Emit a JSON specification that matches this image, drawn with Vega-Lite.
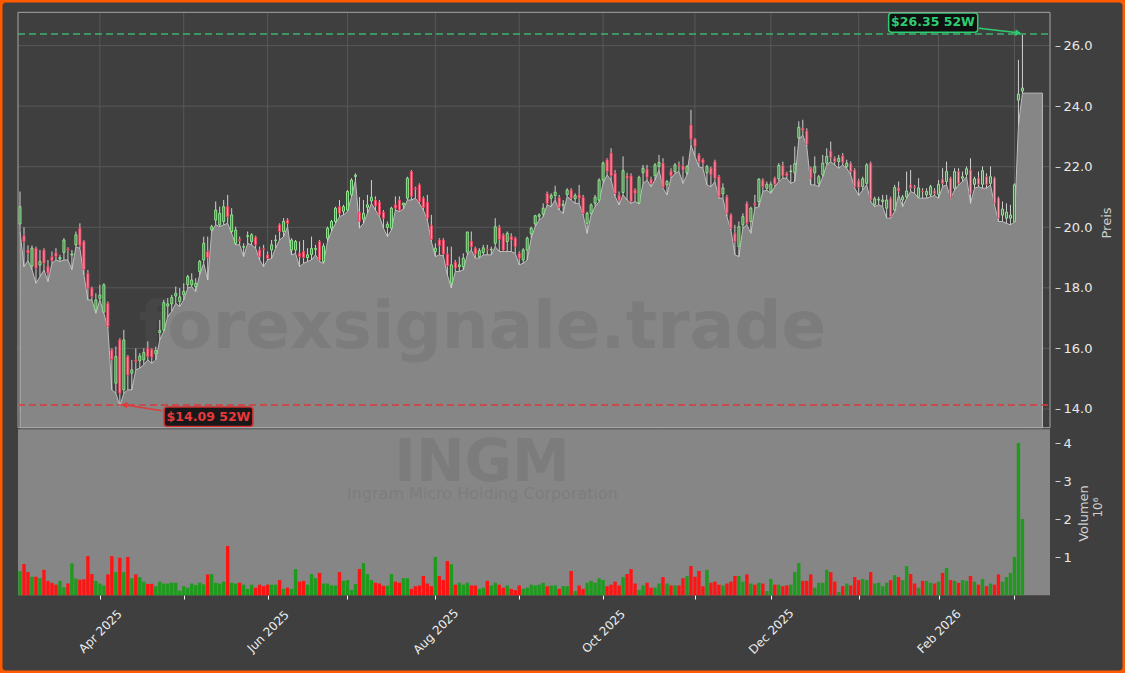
{
"$schema":"https://vega.github.io/schema/vega-lite/v6.json",
"width":1125,"height":673,"padding":0,"autosize":{"type":"none"},
"background":"#ffffff",
"config":{"font":"DejaVu Sans","view":{"fill":"#3f3f3f","stroke":"#ff5a00","strokeWidth":5,"cornerRadius":6},"axis":{"grid":false,"domain":false}},
"datasets":{
"months":[{"i":20},{"i":41},{"i":62},{"i":82},{"i":104},{"i":125},{"i":146},{"i":169},{"i":188},{"i":210},{"i":230},{"i":249}],
"levels":[{"p":14},{"p":16},{"p":18},{"p":20},{"p":22},{"p":24},{"p":26}],
"ohlc":[
{"i":0,"o":20.11,"h":21.18,"l":19.86,"c":20.68,"v":0.64},
{"i":1,"o":19.72,"h":20.0,"l":18.7,"c":19.53,"v":0.82},
{"i":2,"o":19.25,"h":19.4,"l":18.9,"c":19.15,"v":0.61},
{"i":3,"o":18.72,"h":19.4,"l":18.6,"c":19.31,"v":0.49},
{"i":4,"o":19.31,"h":19.36,"l":18.15,"c":18.65,"v":0.49},
{"i":5,"o":18.75,"h":19.25,"l":18.37,"c":18.87,"v":0.45},
{"i":6,"o":19.25,"h":19.31,"l":18.59,"c":18.81,"v":0.67},
{"i":7,"o":18.72,"h":18.92,"l":18.21,"c":18.48,"v":0.38},
{"i":8,"o":19.03,"h":19.2,"l":18.81,"c":18.9,"v":0.33},
{"i":9,"o":19.16,"h":19.31,"l":18.92,"c":19.03,"v":0.28},
{"i":10,"o":18.95,"h":19.09,"l":18.87,"c":19.0,"v":0.38},
{"i":11,"o":19.17,"h":19.64,"l":18.92,"c":19.58,"v":0.21},
{"i":12,"o":19.29,"h":19.34,"l":18.92,"c":19.25,"v":0.31},
{"i":13,"o":19.08,"h":19.25,"l":18.6,"c":19.12,"v":0.84},
{"i":14,"o":19.42,"h":19.86,"l":19.36,"c":19.75,"v":0.44},
{"i":15,"o":19.97,"h":20.13,"l":19.3,"c":19.4,"v":0.41},
{"i":16,"o":19.53,"h":19.58,"l":18.43,"c":18.6,"v":0.42},
{"i":17,"o":18.48,"h":18.59,"l":17.6,"c":17.99,"v":1.03},
{"i":18,"o":17.99,"h":18.04,"l":17.6,"c":17.71,"v":0.56},
{"i":19,"o":17.27,"h":17.82,"l":17.16,"c":17.6,"v":0.38},
{"i":20,"o":17.65,"h":18.1,"l":17.6,"c":17.76,"v":0.31},
{"i":21,"o":17.2,"h":18.15,"l":17.16,"c":18.1,"v":0.26},
{"i":22,"o":17.49,"h":17.55,"l":16.67,"c":16.72,"v":0.55},
{"i":23,"o":15.95,"h":16.0,"l":14.63,"c":15.64,"v":1.03},
{"i":24,"o":14.85,"h":16.06,"l":14.52,"c":15.73,"v":0.61},
{"i":25,"o":16.28,"h":16.34,"l":14.09,"c":14.52,"v":0.99},
{"i":26,"o":14.63,"h":16.61,"l":14.52,"c":16.28,"v":0.61},
{"i":27,"o":15.73,"h":15.78,"l":14.63,"c":15.12,"v":1.01},
{"i":28,"o":15.18,"h":15.62,"l":14.63,"c":15.29,"v":0.45},
{"i":29,"o":15.62,"h":16.0,"l":15.29,"c":15.57,"v":0.55},
{"i":30,"o":15.59,"h":15.84,"l":15.35,"c":15.75,"v":0.48},
{"i":31,"o":15.62,"h":16.0,"l":15.46,"c":15.86,"v":0.36},
{"i":32,"o":16.0,"h":16.23,"l":15.62,"c":15.73,"v":0.3},
{"i":33,"o":15.97,"h":16.0,"l":15.51,"c":15.71,"v":0.3},
{"i":34,"o":15.82,"h":16.06,"l":15.62,"c":15.93,"v":0.24},
{"i":35,"o":16.52,"h":16.94,"l":16.28,"c":16.59,"v":0.36},
{"i":36,"o":16.61,"h":17.6,"l":16.56,"c":17.51,"v":0.31},
{"i":37,"o":17.4,"h":17.66,"l":17.05,"c":17.47,"v":0.31},
{"i":38,"o":17.47,"h":17.77,"l":17.22,"c":17.68,"v":0.33},
{"i":39,"o":17.73,"h":18.04,"l":17.49,"c":17.82,"v":0.33},
{"i":40,"o":17.55,"h":17.99,"l":17.38,"c":17.7,"v":0.12},
{"i":41,"o":17.77,"h":18.15,"l":17.6,"c":17.88,"v":0.24},
{"i":42,"o":18.1,"h":18.43,"l":17.99,"c":18.37,"v":0.2},
{"i":43,"o":18.1,"h":18.48,"l":18.04,"c":18.26,"v":0.31},
{"i":44,"o":18.04,"h":18.32,"l":17.88,"c":18.15,"v":0.27},
{"i":45,"o":18.54,"h":18.92,"l":18.43,"c":18.87,"v":0.33},
{"i":46,"o":18.92,"h":19.69,"l":18.81,"c":19.47,"v":0.29},
{"i":47,"o":19.2,"h":19.69,"l":18.26,"c":19.0,"v":0.55},
{"i":48,"o":19.91,"h":20.08,"l":19.86,"c":20.02,"v":0.56},
{"i":49,"o":20.24,"h":20.85,"l":20.08,"c":20.57,"v":0.33},
{"i":50,"o":20.08,"h":20.68,"l":20.02,"c":20.46,"v":0.31},
{"i":51,"o":20.19,"h":20.9,"l":20.08,"c":20.68,"v":0.36},
{"i":52,"o":20.68,"h":21.07,"l":20.13,"c":20.35,"v":1.3},
{"i":53,"o":19.86,"h":20.63,"l":19.8,"c":20.41,"v":0.33},
{"i":54,"o":19.47,"h":20.02,"l":19.42,"c":19.91,"v":0.31},
{"i":55,"o":19.6,"h":19.69,"l":19.42,"c":19.56,"v":0.33},
{"i":56,"o":19.34,"h":19.47,"l":19.03,"c":19.36,"v":0.28},
{"i":57,"o":19.7,"h":19.86,"l":19.47,"c":19.72,"v":0.17},
{"i":58,"o":19.53,"h":19.8,"l":19.42,"c":19.75,"v":0.28},
{"i":59,"o":19.67,"h":19.72,"l":19.31,"c":19.42,"v":0.2},
{"i":60,"o":19.25,"h":19.36,"l":18.92,"c":19.03,"v":0.28},
{"i":61,"o":19.29,"h":19.42,"l":18.7,"c":19.27,"v":0.24},
{"i":62,"o":19.09,"h":19.2,"l":18.92,"c":18.97,"v":0.28},
{"i":63,"o":19.25,"h":19.58,"l":18.97,"c":19.42,"v":0.28},
{"i":64,"o":19.56,"h":19.75,"l":19.31,"c":19.58,"v":0.28},
{"i":65,"o":20.08,"h":20.13,"l":19.58,"c":19.86,"v":0.4},
{"i":66,"o":19.86,"h":20.3,"l":19.69,"c":20.19,"v":0.17},
{"i":67,"o":20.24,"h":20.3,"l":20.02,"c":20.13,"v":0.2},
{"i":68,"o":19.25,"h":19.64,"l":19.09,"c":19.58,"v":0.17},
{"i":69,"o":19.25,"h":19.58,"l":19.14,"c":19.53,"v":0.69},
{"i":70,"o":19.14,"h":19.53,"l":18.7,"c":19.03,"v":0.36},
{"i":71,"o":19.2,"h":19.58,"l":18.81,"c":19.0,"v":0.38},
{"i":72,"o":19.0,"h":19.31,"l":18.87,"c":19.09,"v":0.28},
{"i":73,"o":19.1,"h":19.69,"l":18.92,"c":19.3,"v":0.56},
{"i":74,"o":19.27,"h":19.42,"l":19.09,"c":19.3,"v":0.45},
{"i":75,"o":19.53,"h":19.58,"l":18.87,"c":18.92,"v":0.59},
{"i":76,"o":18.87,"h":19.47,"l":18.81,"c":19.38,"v":0.31},
{"i":77,"o":19.64,"h":20.02,"l":19.53,"c":19.97,"v":0.31},
{"i":78,"o":19.97,"h":20.24,"l":19.86,"c":20.19,"v":0.26},
{"i":79,"o":20.19,"h":20.68,"l":20.13,"c":20.63,"v":0.26},
{"i":80,"o":20.68,"h":20.9,"l":20.35,"c":20.46,"v":0.61},
{"i":81,"o":20.52,"h":20.74,"l":20.41,"c":20.68,"v":0.38},
{"i":82,"o":20.57,"h":21.23,"l":20.52,"c":21.18,"v":0.4},
{"i":83,"o":21.07,"h":21.62,"l":21.01,"c":21.56,"v":0.14},
{"i":84,"o":21.68,"h":21.78,"l":21.56,"c":21.72,"v":0.3},
{"i":85,"o":20.5,"h":21.0,"l":19.97,"c":20.2,"v":0.69},
{"i":86,"o":20.27,"h":20.9,"l":20.13,"c":20.46,"v":0.85},
{"i":87,"o":20.66,"h":21.07,"l":20.46,"c":20.74,"v":0.56},
{"i":88,"o":20.87,"h":21.56,"l":20.79,"c":20.99,"v":0.4},
{"i":89,"o":20.9,"h":21.02,"l":20.57,"c":20.71,"v":0.33},
{"i":90,"o":20.83,"h":20.9,"l":20.35,"c":20.41,"v":0.31},
{"i":91,"o":20.5,"h":20.57,"l":19.97,"c":20.3,"v":0.25},
{"i":92,"o":20.0,"h":20.19,"l":19.69,"c":20.1,"v":0.25},
{"i":93,"o":19.97,"h":20.68,"l":19.91,"c":20.63,"v":0.56},
{"i":94,"o":20.74,"h":21.02,"l":20.57,"c":20.63,"v":0.36},
{"i":95,"o":20.9,"h":21.02,"l":20.52,"c":20.57,"v":0.33},
{"i":96,"o":20.74,"h":20.8,"l":20.6,"c":20.8,"v":0.45},
{"i":97,"o":20.96,"h":21.67,"l":20.9,"c":21.62,"v":0.45},
{"i":98,"o":21.84,"h":21.89,"l":20.9,"c":21.02,"v":0.17},
{"i":99,"o":21.29,"h":21.34,"l":20.96,"c":21.26,"v":0.24},
{"i":100,"o":21.4,"h":21.45,"l":20.79,"c":20.85,"v":0.26},
{"i":101,"o":20.96,"h":21.02,"l":20.57,"c":20.66,"v":0.51},
{"i":102,"o":20.83,"h":21.07,"l":20.24,"c":20.3,"v":0.31},
{"i":103,"o":20.06,"h":20.41,"l":19.53,"c":19.6,"v":0.24},
{"i":104,"o":19.2,"h":19.47,"l":19.03,"c":19.31,"v":1.01},
{"i":105,"o":19.58,"h":19.64,"l":19.09,"c":19.4,"v":0.51},
{"i":106,"o":19.58,"h":19.64,"l":19.05,"c":19.12,"v":0.4},
{"i":107,"o":19.12,"h":19.36,"l":18.43,"c":18.73,"v":0.9},
{"i":108,"o":18.15,"h":19.36,"l":17.99,"c":18.76,"v":0.82},
{"i":109,"o":18.85,"h":18.92,"l":18.54,"c":18.65,"v":0.28},
{"i":110,"o":18.7,"h":19.03,"l":18.54,"c":18.76,"v":0.33},
{"i":111,"o":18.7,"h":19.14,"l":18.59,"c":18.98,"v":0.28},
{"i":112,"o":19.18,"h":19.86,"l":19.09,"c":19.84,"v":0.33},
{"i":113,"o":19.54,"h":19.86,"l":19.25,"c":19.36,"v":0.26},
{"i":114,"o":19.31,"h":19.36,"l":18.98,"c":19.12,"v":0.26},
{"i":115,"o":19.03,"h":19.31,"l":18.98,"c":19.23,"v":0.17},
{"i":116,"o":19.16,"h":19.42,"l":19.09,"c":19.32,"v":0.2},
{"i":117,"o":19.27,"h":19.42,"l":19.09,"c":19.25,"v":0.38},
{"i":118,"o":19.25,"h":19.36,"l":19.09,"c":19.27,"v":0.26},
{"i":119,"o":19.47,"h":20.3,"l":19.36,"c":20.02,"v":0.33},
{"i":120,"o":20.0,"h":20.08,"l":19.2,"c":19.6,"v":0.28},
{"i":121,"o":19.75,"h":19.8,"l":19.2,"c":19.25,"v":0.2},
{"i":122,"o":19.53,"h":19.86,"l":19.2,"c":19.8,"v":0.26},
{"i":123,"o":19.7,"h":19.8,"l":19.2,"c":19.58,"v":0.17},
{"i":124,"o":19.64,"h":19.69,"l":19.14,"c":19.36,"v":0.14},
{"i":125,"o":19.14,"h":19.2,"l":18.76,"c":18.98,"v":0.26},
{"i":126,"o":18.92,"h":19.31,"l":18.81,"c":19.25,"v":0.17},
{"i":127,"o":19.25,"h":19.69,"l":18.92,"c":19.64,"v":0.2},
{"i":128,"o":19.78,"h":20.02,"l":19.64,"c":19.97,"v":0.28},
{"i":129,"o":20.11,"h":20.41,"l":20.02,"c":20.38,"v":0.26},
{"i":130,"o":20.36,"h":20.46,"l":20.24,"c":20.41,"v":0.28},
{"i":131,"o":20.44,"h":20.79,"l":20.35,"c":20.63,"v":0.33},
{"i":132,"o":21.12,"h":21.18,"l":20.74,"c":20.79,"v":0.24},
{"i":133,"o":20.96,"h":21.12,"l":20.68,"c":21.05,"v":0.26},
{"i":134,"o":21.05,"h":21.37,"l":20.9,"c":21.16,"v":0.26},
{"i":135,"o":20.98,"h":21.07,"l":20.57,"c":20.66,"v":0.17},
{"i":136,"o":20.72,"h":20.9,"l":20.46,"c":20.76,"v":0.24},
{"i":137,"o":21.07,"h":21.29,"l":21.02,"c":21.23,"v":0.24},
{"i":138,"o":21.23,"h":21.29,"l":20.9,"c":20.96,"v":0.64},
{"i":139,"o":20.94,"h":21.12,"l":20.79,"c":21.05,"v":0.11},
{"i":140,"o":21.07,"h":21.4,"l":20.79,"c":20.96,"v":0.26},
{"i":141,"o":20.99,"h":21.07,"l":20.41,"c":20.46,"v":0.17},
{"i":142,"o":20.13,"h":20.52,"l":19.8,"c":20.46,"v":0.33},
{"i":143,"o":20.46,"h":20.79,"l":20.41,"c":20.74,"v":0.38},
{"i":144,"o":20.79,"h":21.07,"l":20.68,"c":20.99,"v":0.33},
{"i":145,"o":20.9,"h":21.62,"l":20.85,"c":21.56,"v":0.45},
{"i":146,"o":21.56,"h":22.17,"l":21.45,"c":22.12,"v":0.4},
{"i":147,"o":22.23,"h":22.28,"l":21.73,"c":21.84,"v":0.24},
{"i":148,"o":22.45,"h":22.61,"l":21.56,"c":21.7,"v":0.28},
{"i":149,"o":21.78,"h":21.89,"l":21.02,"c":21.12,"v":0.36},
{"i":150,"o":21.06,"h":21.18,"l":20.74,"c":20.9,"v":0.26},
{"i":151,"o":21.15,"h":22.34,"l":21.07,"c":21.87,"v":0.48},
{"i":152,"o":21.7,"h":21.8,"l":20.9,"c":21.62,"v":0.56},
{"i":153,"o":21.7,"h":21.78,"l":20.79,"c":20.85,"v":0.69},
{"i":154,"o":21.23,"h":21.29,"l":20.85,"c":21.12,"v":0.31},
{"i":155,"o":20.81,"h":21.7,"l":20.77,"c":21.65,"v":0.14},
{"i":156,"o":21.8,"h":22.06,"l":21.45,"c":21.95,"v":0.26},
{"i":157,"o":21.92,"h":22.06,"l":21.56,"c":21.65,"v":0.33},
{"i":158,"o":21.59,"h":21.67,"l":21.34,"c":21.45,"v":0.2},
{"i":159,"o":21.7,"h":22.12,"l":21.56,"c":22.06,"v":0.2},
{"i":160,"o":22.01,"h":22.39,"l":21.89,"c":22.14,"v":0.31},
{"i":161,"o":22.12,"h":22.28,"l":21.29,"c":21.32,"v":0.48},
{"i":162,"o":21.4,"h":21.56,"l":21.07,"c":21.51,"v":0.31},
{"i":163,"o":21.86,"h":21.95,"l":21.62,"c":21.7,"v":0.26},
{"i":164,"o":21.84,"h":22.12,"l":21.78,"c":22.06,"v":0.26},
{"i":165,"o":22.06,"h":22.17,"l":21.84,"c":22.03,"v":0.26},
{"i":166,"o":22.03,"h":22.34,"l":21.45,"c":21.89,"v":0.45},
{"i":167,"o":21.8,"h":22.06,"l":21.73,"c":22.0,"v":0.51},
{"i":168,"o":23.38,"h":23.88,"l":22.72,"c":22.91,"v":0.77},
{"i":169,"o":22.91,"h":22.94,"l":22.34,"c":22.67,"v":0.49},
{"i":170,"o":22.39,"h":22.45,"l":22.0,"c":22.17,"v":0.64},
{"i":171,"o":22.23,"h":22.28,"l":21.95,"c":22.12,"v":0.24},
{"i":172,"o":21.8,"h":22.06,"l":21.4,"c":22.0,"v":0.67},
{"i":173,"o":21.95,"h":22.0,"l":21.34,"c":21.73,"v":0.33},
{"i":174,"o":22.17,"h":22.23,"l":21.51,"c":21.62,"v":0.36},
{"i":175,"o":21.67,"h":21.73,"l":20.96,"c":21.01,"v":0.28},
{"i":176,"o":21.1,"h":21.45,"l":20.96,"c":21.3,"v":0.26},
{"i":177,"o":21.01,"h":21.07,"l":20.35,"c":20.46,"v":0.31},
{"i":178,"o":20.41,"h":20.46,"l":19.91,"c":19.97,"v":0.36},
{"i":179,"o":19.8,"h":20.08,"l":19.09,"c":19.53,"v":0.51},
{"i":180,"o":19.36,"h":20.19,"l":19.03,"c":20.02,"v":0.51},
{"i":181,"o":20.08,"h":20.46,"l":19.97,"c":20.35,"v":0.36},
{"i":182,"o":20.79,"h":20.85,"l":20.08,"c":20.13,"v":0.55},
{"i":183,"o":20.19,"h":20.68,"l":19.8,"c":20.63,"v":0.31},
{"i":184,"o":20.79,"h":21.07,"l":20.63,"c":20.74,"v":0.28},
{"i":185,"o":20.85,"h":21.62,"l":20.68,"c":21.59,"v":0.33},
{"i":186,"o":21.56,"h":21.62,"l":21.18,"c":21.34,"v":0.31},
{"i":187,"o":21.29,"h":21.51,"l":21.23,"c":21.42,"v":0.11},
{"i":188,"o":21.18,"h":21.51,"l":21.12,"c":21.42,"v":0.43},
{"i":189,"o":21.62,"h":21.67,"l":21.34,"c":21.42,"v":0.28},
{"i":190,"o":21.6,"h":22.12,"l":21.51,"c":22.04,"v":0.28},
{"i":191,"o":22.04,"h":22.17,"l":21.62,"c":21.7,"v":0.24},
{"i":192,"o":21.78,"h":21.84,"l":21.62,"c":21.7,"v":0.26},
{"i":193,"o":21.84,"h":22.06,"l":21.45,"c":21.86,"v":0.28},
{"i":194,"o":21.8,"h":22.67,"l":21.51,"c":22.1,"v":0.61},
{"i":195,"o":22.95,"h":23.5,"l":22.9,"c":23.3,"v":0.85},
{"i":196,"o":23.27,"h":23.55,"l":23.05,"c":23.2,"v":0.38},
{"i":197,"o":23.18,"h":23.27,"l":22.67,"c":22.74,"v":0.38},
{"i":198,"o":21.95,"h":22.0,"l":21.4,"c":21.62,"v":0.55},
{"i":199,"o":21.8,"h":22.34,"l":21.4,"c":22.0,"v":0.2},
{"i":200,"o":21.45,"h":21.73,"l":21.34,"c":21.67,"v":0.33},
{"i":201,"o":21.73,"h":22.39,"l":21.67,"c":22.12,"v":0.33},
{"i":202,"o":22.12,"h":22.61,"l":22.06,"c":22.34,"v":0.67},
{"i":203,"o":22.52,"h":22.83,"l":22.17,"c":22.3,"v":0.61},
{"i":204,"o":22.28,"h":22.34,"l":22.06,"c":22.17,"v":0.36},
{"i":205,"o":22.17,"h":22.39,"l":21.95,"c":22.28,"v":0.09},
{"i":206,"o":22.36,"h":22.45,"l":22.06,"c":22.15,"v":0.24},
{"i":207,"o":22.0,"h":22.23,"l":21.95,"c":22.12,"v":0.31},
{"i":208,"o":22.1,"h":22.17,"l":21.73,"c":21.84,"v":0.26},
{"i":209,"o":21.89,"h":21.95,"l":21.29,"c":21.34,"v":0.48},
{"i":210,"o":21.53,"h":21.6,"l":21.05,"c":21.31,"v":0.4},
{"i":211,"o":21.34,"h":21.67,"l":21.23,"c":21.6,"v":0.43},
{"i":212,"o":21.45,"h":22.12,"l":21.4,"c":22.06,"v":0.4},
{"i":213,"o":22.12,"h":22.17,"l":20.85,"c":20.9,"v":0.61},
{"i":214,"o":20.74,"h":21.01,"l":20.68,"c":20.94,"v":0.31},
{"i":215,"o":20.9,"h":21.01,"l":20.74,"c":20.92,"v":0.33},
{"i":216,"o":20.85,"h":21.07,"l":20.68,"c":20.9,"v":0.24},
{"i":217,"o":20.63,"h":21.07,"l":20.3,"c":20.9,"v":0.33},
{"i":218,"o":20.94,"h":21.01,"l":20.3,"c":20.35,"v":0.4},
{"i":219,"o":20.57,"h":21.4,"l":20.52,"c":21.31,"v":0.53},
{"i":220,"o":21.3,"h":21.51,"l":21.07,"c":21.2,"v":0.48},
{"i":221,"o":20.9,"h":21.07,"l":20.68,"c":21.0,"v":0.4},
{"i":222,"o":21.0,"h":21.84,"l":20.96,"c":21.2,"v":0.77},
{"i":223,"o":21.4,"h":21.89,"l":21.18,"c":21.3,"v":0.56},
{"i":224,"o":21.34,"h":21.4,"l":21.12,"c":21.32,"v":0.31},
{"i":225,"o":21.0,"h":21.62,"l":20.96,"c":21.3,"v":0.2},
{"i":226,"o":21.2,"h":21.29,"l":20.96,"c":21.18,"v":0.38},
{"i":227,"o":21.07,"h":21.29,"l":20.96,"c":21.18,"v":0.38},
{"i":228,"o":21.07,"h":21.4,"l":21.01,"c":21.34,"v":0.33},
{"i":229,"o":21.2,"h":21.29,"l":21.05,"c":21.12,"v":0.31},
{"i":230,"o":21.09,"h":21.56,"l":20.96,"c":21.42,"v":0.36},
{"i":231,"o":21.59,"h":21.95,"l":21.34,"c":21.45,"v":0.59},
{"i":232,"o":21.51,"h":22.17,"l":21.4,"c":21.84,"v":0.72},
{"i":233,"o":21.62,"h":21.67,"l":20.96,"c":20.98,"v":0.4},
{"i":234,"o":21.29,"h":21.95,"l":21.23,"c":21.84,"v":0.38},
{"i":235,"o":21.84,"h":21.95,"l":21.4,"c":21.45,"v":0.33},
{"i":236,"o":21.62,"h":21.84,"l":21.51,"c":21.67,"v":0.4},
{"i":237,"o":21.75,"h":22.01,"l":21.67,"c":21.93,"v":0.38},
{"i":238,"o":21.89,"h":22.28,"l":20.79,"c":21.12,"v":0.51},
{"i":239,"o":21.42,"h":21.67,"l":21.29,"c":21.6,"v":0.36},
{"i":240,"o":21.62,"h":21.84,"l":21.34,"c":21.42,"v":0.28},
{"i":241,"o":21.42,"h":22.01,"l":21.29,"c":21.87,"v":0.43},
{"i":242,"o":21.67,"h":21.78,"l":21.29,"c":21.42,"v":0.24},
{"i":243,"o":21.45,"h":22.01,"l":21.4,"c":21.67,"v":0.31},
{"i":244,"o":21.62,"h":21.67,"l":20.74,"c":20.79,"v":0.28},
{"i":245,"o":20.96,"h":21.01,"l":20.19,"c":20.3,"v":0.55},
{"i":246,"o":20.4,"h":20.85,"l":20.19,"c":20.6,"v":0.36},
{"i":247,"o":20.3,"h":20.79,"l":20.13,"c":20.5,"v":0.48},
{"i":248,"o":20.3,"h":20.74,"l":20.08,"c":20.4,"v":0.59},
{"i":249,"o":20.19,"h":21.45,"l":20.17,"c":21.4,"v":1.01},
{"i":250,"o":24.2,"h":25.53,"l":23.38,"c":24.4,"v":4.01},
{"i":251,"o":24.5,"h":26.35,"l":24.43,"c":24.6,"v":2.01},
{"i":256,"l":24.43}
]},
"resolve":{"scale":{"y":"independent"}},
"layer":[
{"layer":[
{"data":{"name":"months"},"mark":{"type":"rule","color":"#585858","strokeWidth":1},
 "encoding":{"x":{"field":"i","type":"quantitative","scale":{"domain":[-0.5,257.9],"range":[13,1055],"nice":false,"zero":false}},
 "y":{"datum":13.38,"type":"quantitative","scale":{"domain":[13.38,27.1],"range":[427.7,12.3],"nice":false,"zero":false}},"y2":{"datum":27.1}}},
{"data":{"name":"levels"},"mark":{"type":"rule","color":"#585858","strokeWidth":1},
 "encoding":{"y":{"field":"p","type":"quantitative","scale":{"domain":[13.38,27.1],"range":[427.7,12.3],"nice":false,"zero":false}},
 "x":{"datum":-0.5,"type":"quantitative","scale":{"domain":[-0.5,257.9],"range":[13,1055],"nice":false,"zero":false}},"x2":{"datum":257.9}}},
{"data":{"name":"ohlc"},"mark":{"type":"area","fill":"#868686","stroke":"#bdbdbd","strokeWidth":1},
 "encoding":{"x":{"field":"i","type":"quantitative","scale":{"domain":[-0.5,257.9],"range":[13,1055],"nice":false,"zero":false}},
 "y":{"field":"l","type":"quantitative","scale":{"domain":[13.38,27.1],"range":[427.7,12.3],"nice":false,"zero":false}},"y2":{"datum":13.38}}},
{"data":{"values":[{}]},"mark":{"type":"text","text":"forexsignale.trade","fontSize":66,"fontWeight":"bold","fill":"#606060","opacity":0.24,"align":"center","baseline":"alphabetic"},
 "encoding":{"x":{"datum":115.8,"type":"quantitative","scale":{"domain":[-0.5,257.9],"range":[13,1055],"nice":false,"zero":false}},
 "y":{"datum":16.02,"type":"quantitative","scale":{"domain":[13.38,27.1],"range":[427.7,12.3],"nice":false,"zero":false}}}},
{"data":{"name":"ohlc"},"mark":{"type":"rule","color":"#d0d0d0","strokeWidth":1},
 "encoding":{"x":{"field":"i","type":"quantitative","scale":{"domain":[-0.5,257.9],"range":[13,1055],"nice":false,"zero":false}},
 "y":{"field":"l","type":"quantitative","scale":{"domain":[13.38,27.1],"range":[427.7,12.3],"nice":false,"zero":false}},"y2":{"field":"h"}}},
{"data":{"name":"ohlc"},"mark":{"type":"bar","width":2,"strokeWidth":1},
 "encoding":{"x":{"field":"i","type":"quantitative","scale":{"domain":[-0.5,257.9],"range":[13,1055],"nice":false,"zero":false}},
 "y":{"field":"o","type":"quantitative","scale":{"domain":[13.38,27.1],"range":[427.7,12.3],"nice":false,"zero":false},
   "axis":{"orient":"right","offset":-70,"values":[14,16,18,20,22,24,26],"format":".1f","grid":false,"domain":false,"ticks":true,"tickColor":"#d0d0d0","tickSize":5,"labelColor":"#e8e8e8","labelFontSize":13,"labelPadding":3,"labelOverlap":false,"labelFlush":false,
   "title":"Preis","titleColor":"#d0d0d0","titleFontSize":13,"titleFontWeight":"normal","titleAngle":270,"titleAlign":"center","titleBaseline":"top","titleX":45,"titleY":222.5}},
 "y2":{"field":"c"},
 "fill":{"condition":{"test":"datum.c >= datum.o","value":"#4e7a4e"},"value":"#ff9fb3"},
 "stroke":{"condition":{"test":"datum.c >= datum.o","value":"#8ee68e"},"value":"#e8405e"}}},
{"data":{"values":[{}]},"mark":{"type":"rule","color":"#3cb46e","strokeWidth":1.5,"strokeDash":[7,4]},
 "encoding":{"x":{"datum":-0.5,"type":"quantitative","scale":{"domain":[-0.5,257.9],"range":[13,1055],"nice":false,"zero":false}},"x2":{"datum":257.9},
 "y":{"datum":26.38,"type":"quantitative","scale":{"domain":[13.38,27.1],"range":[427.7,12.3],"nice":false,"zero":false}}}},
{"data":{"values":[{}]},"mark":{"type":"rule","color":"#d93a3a","strokeWidth":1.5,"strokeDash":[7,4]},
 "encoding":{"x":{"datum":-0.5,"type":"quantitative","scale":{"domain":[-0.5,257.9],"range":[13,1055],"nice":false,"zero":false}},"x2":{"datum":257.9},
 "y":{"datum":14.13,"type":"quantitative","scale":{"domain":[13.38,27.1],"range":[427.7,12.3],"nice":false,"zero":false}}}},
{"data":{"values":[{}]},"mark":{"type":"rule","color":"#2ecc71","strokeWidth":1.5},
 "encoding":{"x":{"datum":240.1,"type":"quantitative","scale":{"domain":[-0.5,257.9],"range":[13,1055],"nice":false,"zero":false}},"x2":{"datum":249.4},
 "y":{"datum":26.57,"type":"quantitative","scale":{"domain":[13.38,27.1],"range":[427.7,12.3],"nice":false,"zero":false}},"y2":{"datum":26.43}}},
{"data":{"values":[{}]},"mark":{"type":"point","shape":"triangle","filled":true,"size":45,"angle":97,"fill":"#2ecc71","opacity":1,"strokeWidth":0},
 "encoding":{"x":{"datum":249.7,"type":"quantitative","scale":{"domain":[-0.5,257.9],"range":[13,1055],"nice":false,"zero":false}},
 "y":{"datum":26.42,"type":"quantitative","scale":{"domain":[13.38,27.1],"range":[427.7,12.3],"nice":false,"zero":false}}}},
{"data":{"values":[{}]},"mark":{"type":"rule","color":"#e03a3a","strokeWidth":1.5},
 "encoding":{"x":{"datum":35.5,"type":"quantitative","scale":{"domain":[-0.5,257.9],"range":[13,1055],"nice":false,"zero":false}},"x2":{"datum":26.8},
 "y":{"datum":13.94,"type":"quantitative","scale":{"domain":[13.38,27.1],"range":[427.7,12.3],"nice":false,"zero":false}},"y2":{"datum":14.12}}},
{"data":{"values":[{}]},"mark":{"type":"point","shape":"triangle","filled":true,"size":45,"angle":278,"fill":"#e03a3a","opacity":1,"strokeWidth":0},
 "encoding":{"x":{"datum":26.4,"type":"quantitative","scale":{"domain":[-0.5,257.9],"range":[13,1055],"nice":false,"zero":false}},
 "y":{"datum":14.13,"type":"quantitative","scale":{"domain":[13.38,27.1],"range":[427.7,12.3],"nice":false,"zero":false}}}},
{"data":{"values":[{}]},"mark":{"type":"rect","fill":"#101010","stroke":"#2ecc71","strokeWidth":1.5,"cornerRadius":3},
 "encoding":{"x":{"datum":217.5,"type":"quantitative","scale":{"domain":[-0.5,257.9],"range":[13,1055],"nice":false,"zero":false}},"x2":{"datum":239.8},
 "y":{"datum":27.08,"type":"quantitative","scale":{"domain":[13.38,27.1],"range":[427.7,12.3],"nice":false,"zero":false}},"y2":{"datum":26.44}}},
{"data":{"values":[{}]},"mark":{"type":"text","text":"$26.35 52W","fontSize":12.5,"fontWeight":"bold","fill":"#2ecc71","align":"center","baseline":"middle"},
 "encoding":{"x":{"datum":228.6,"type":"quantitative","scale":{"domain":[-0.5,257.9],"range":[13,1055],"nice":false,"zero":false}},
 "y":{"datum":26.77,"type":"quantitative","scale":{"domain":[13.38,27.1],"range":[427.7,12.3],"nice":false,"zero":false}}}},
{"data":{"values":[{}]},"mark":{"type":"rect","fill":"#181818","stroke":"#d03030","strokeWidth":1.5,"cornerRadius":3},
 "encoding":{"x":{"datum":36.1,"type":"quantitative","scale":{"domain":[-0.5,257.9],"range":[13,1055],"nice":false,"zero":false}},"x2":{"datum":58.3},
 "y":{"datum":14.06,"type":"quantitative","scale":{"domain":[13.38,27.1],"range":[427.7,12.3],"nice":false,"zero":false}},"y2":{"datum":13.42}}},
{"data":{"values":[{}]},"mark":{"type":"text","text":"$14.09 52W","fontSize":12.5,"fontWeight":"bold","fill":"#e8383c","align":"center","baseline":"middle"},
 "encoding":{"x":{"datum":47.2,"type":"quantitative","scale":{"domain":[-0.5,257.9],"range":[13,1055],"nice":false,"zero":false}},
 "y":{"datum":13.74,"type":"quantitative","scale":{"domain":[13.38,27.1],"range":[427.7,12.3],"nice":false,"zero":false}}}},
{"data":{"values":[{}]},"mark":{"type":"rect","fillOpacity":0,"stroke":"#a5a5a5","strokeWidth":1},
 "encoding":{"x":{"datum":-0.5,"type":"quantitative","scale":{"domain":[-0.5,257.9],"range":[13,1055],"nice":false,"zero":false}},"x2":{"datum":257.9},
 "y":{"datum":13.38,"type":"quantitative","scale":{"domain":[13.38,27.1],"range":[427.7,12.3],"nice":false,"zero":false}},"y2":{"datum":27.1}}}
]},
{"layer":[
{"data":{"values":[{}]},"mark":{"type":"rect","fill":"#868686"},
 "encoding":{"x":{"datum":-0.5,"type":"quantitative","scale":{"domain":[-0.5,257.9],"range":[13,1055],"nice":false,"zero":false}},"x2":{"datum":257.9},
 "y":{"datum":0,"type":"quantitative","scale":{"domain":[0,4.37],"range":[595.3,429.3],"nice":false,"zero":false}},"y2":{"datum":4.37}}},
{"data":{"name":"ohlc"},"mark":{"type":"bar","width":3.4},
 "encoding":{"x":{"field":"i","type":"quantitative","scale":{"domain":[-0.5,257.9],"range":[13,1055],"nice":false,"zero":false},
   "axis":{"orient":"bottom","offset":-78,"values":[20,41,62,82,104,125,146,169,188,210,230,249],
   "labelExpr":"datum.value == 20 ? 'Apr 2025' : datum.value == 62 ? 'Jun 2025' : datum.value == 104 ? 'Aug 2025' : datum.value == 146 ? 'Oct 2025' : datum.value == 188 ? 'Dec 2025' : datum.value == 230 ? 'Feb 2026' : ''",
   "grid":false,"domain":false,"ticks":true,"tickColor":"#ffffff","tickSize":4,"tickWidth":1,"labelAngle":315,"labelAlign":"center","labelBaseline":"middle","labelPadding":32,"labelFontSize":12,"labelColor":"#eeeeee","labelOverlap":false,"labelFlush":false,"title":null}},
 "y":{"field":"v","type":"quantitative","scale":{"domain":[0,4.37],"range":[595.3,429.3],"nice":false,"zero":false},
   "axis":{"orient":"right","offset":-70,"values":[1,2,3,4],"format":"d","grid":false,"domain":false,"ticks":true,"tickColor":"#d0d0d0","tickSize":5,"labelColor":"#e8e8e8","labelFontSize":13,"labelPadding":3,"labelOverlap":false,"labelFlush":false,
   "title":"Volumen","titleColor":"#d0d0d0","titleFontSize":13,"titleFontWeight":"normal","titleAngle":270,"titleAlign":"center","titleBaseline":"top","titleX":22.5,"titleY":513}},
 "y2":{"datum":0},
 "fill":{"condition":{"test":"datum.c >= datum.o","value":"#1f9a1f"},"value":"#ff1414"}}},
{"data":{"values":[{}]},"mark":{"type":"text","text":"10⁶","fontSize":12,"fill":"#d0d0d0","angle":270,"align":"center","baseline":"middle"},
 "encoding":{"x":{"datum":270.0,"type":"quantitative","scale":{"domain":[-0.5,257.9],"range":[13,1055],"nice":false,"zero":false}},
 "y":{"datum":2.31,"type":"quantitative","scale":{"domain":[0,4.37],"range":[595.3,429.3],"nice":false,"zero":false}}}},
{"data":{"values":[{}]},"mark":{"type":"text","text":"INGM","fontSize":58,"fontWeight":"bold","fill":"#606060","opacity":0.24,"align":"center","baseline":"alphabetic"},
 "encoding":{"x":{"datum":115.7,"type":"quantitative","scale":{"domain":[-0.5,257.9],"range":[13,1055],"nice":false,"zero":false}},
 "y":{"datum":3.0,"type":"quantitative","scale":{"domain":[0,4.37],"range":[595.3,429.3],"nice":false,"zero":false}}}},
{"data":{"values":[{}]},"mark":{"type":"text","text":"Ingram Micro Holding Corporation","fontSize":16,"fill":"#606060","opacity":0.22,"align":"center","baseline":"alphabetic"},
 "encoding":{"x":{"datum":115.8,"type":"quantitative","scale":{"domain":[-0.5,257.9],"range":[13,1055],"nice":false,"zero":false}},
 "y":{"datum":2.54,"type":"quantitative","scale":{"domain":[0,4.37],"range":[595.3,429.3],"nice":false,"zero":false}}}}
]}
]
}
